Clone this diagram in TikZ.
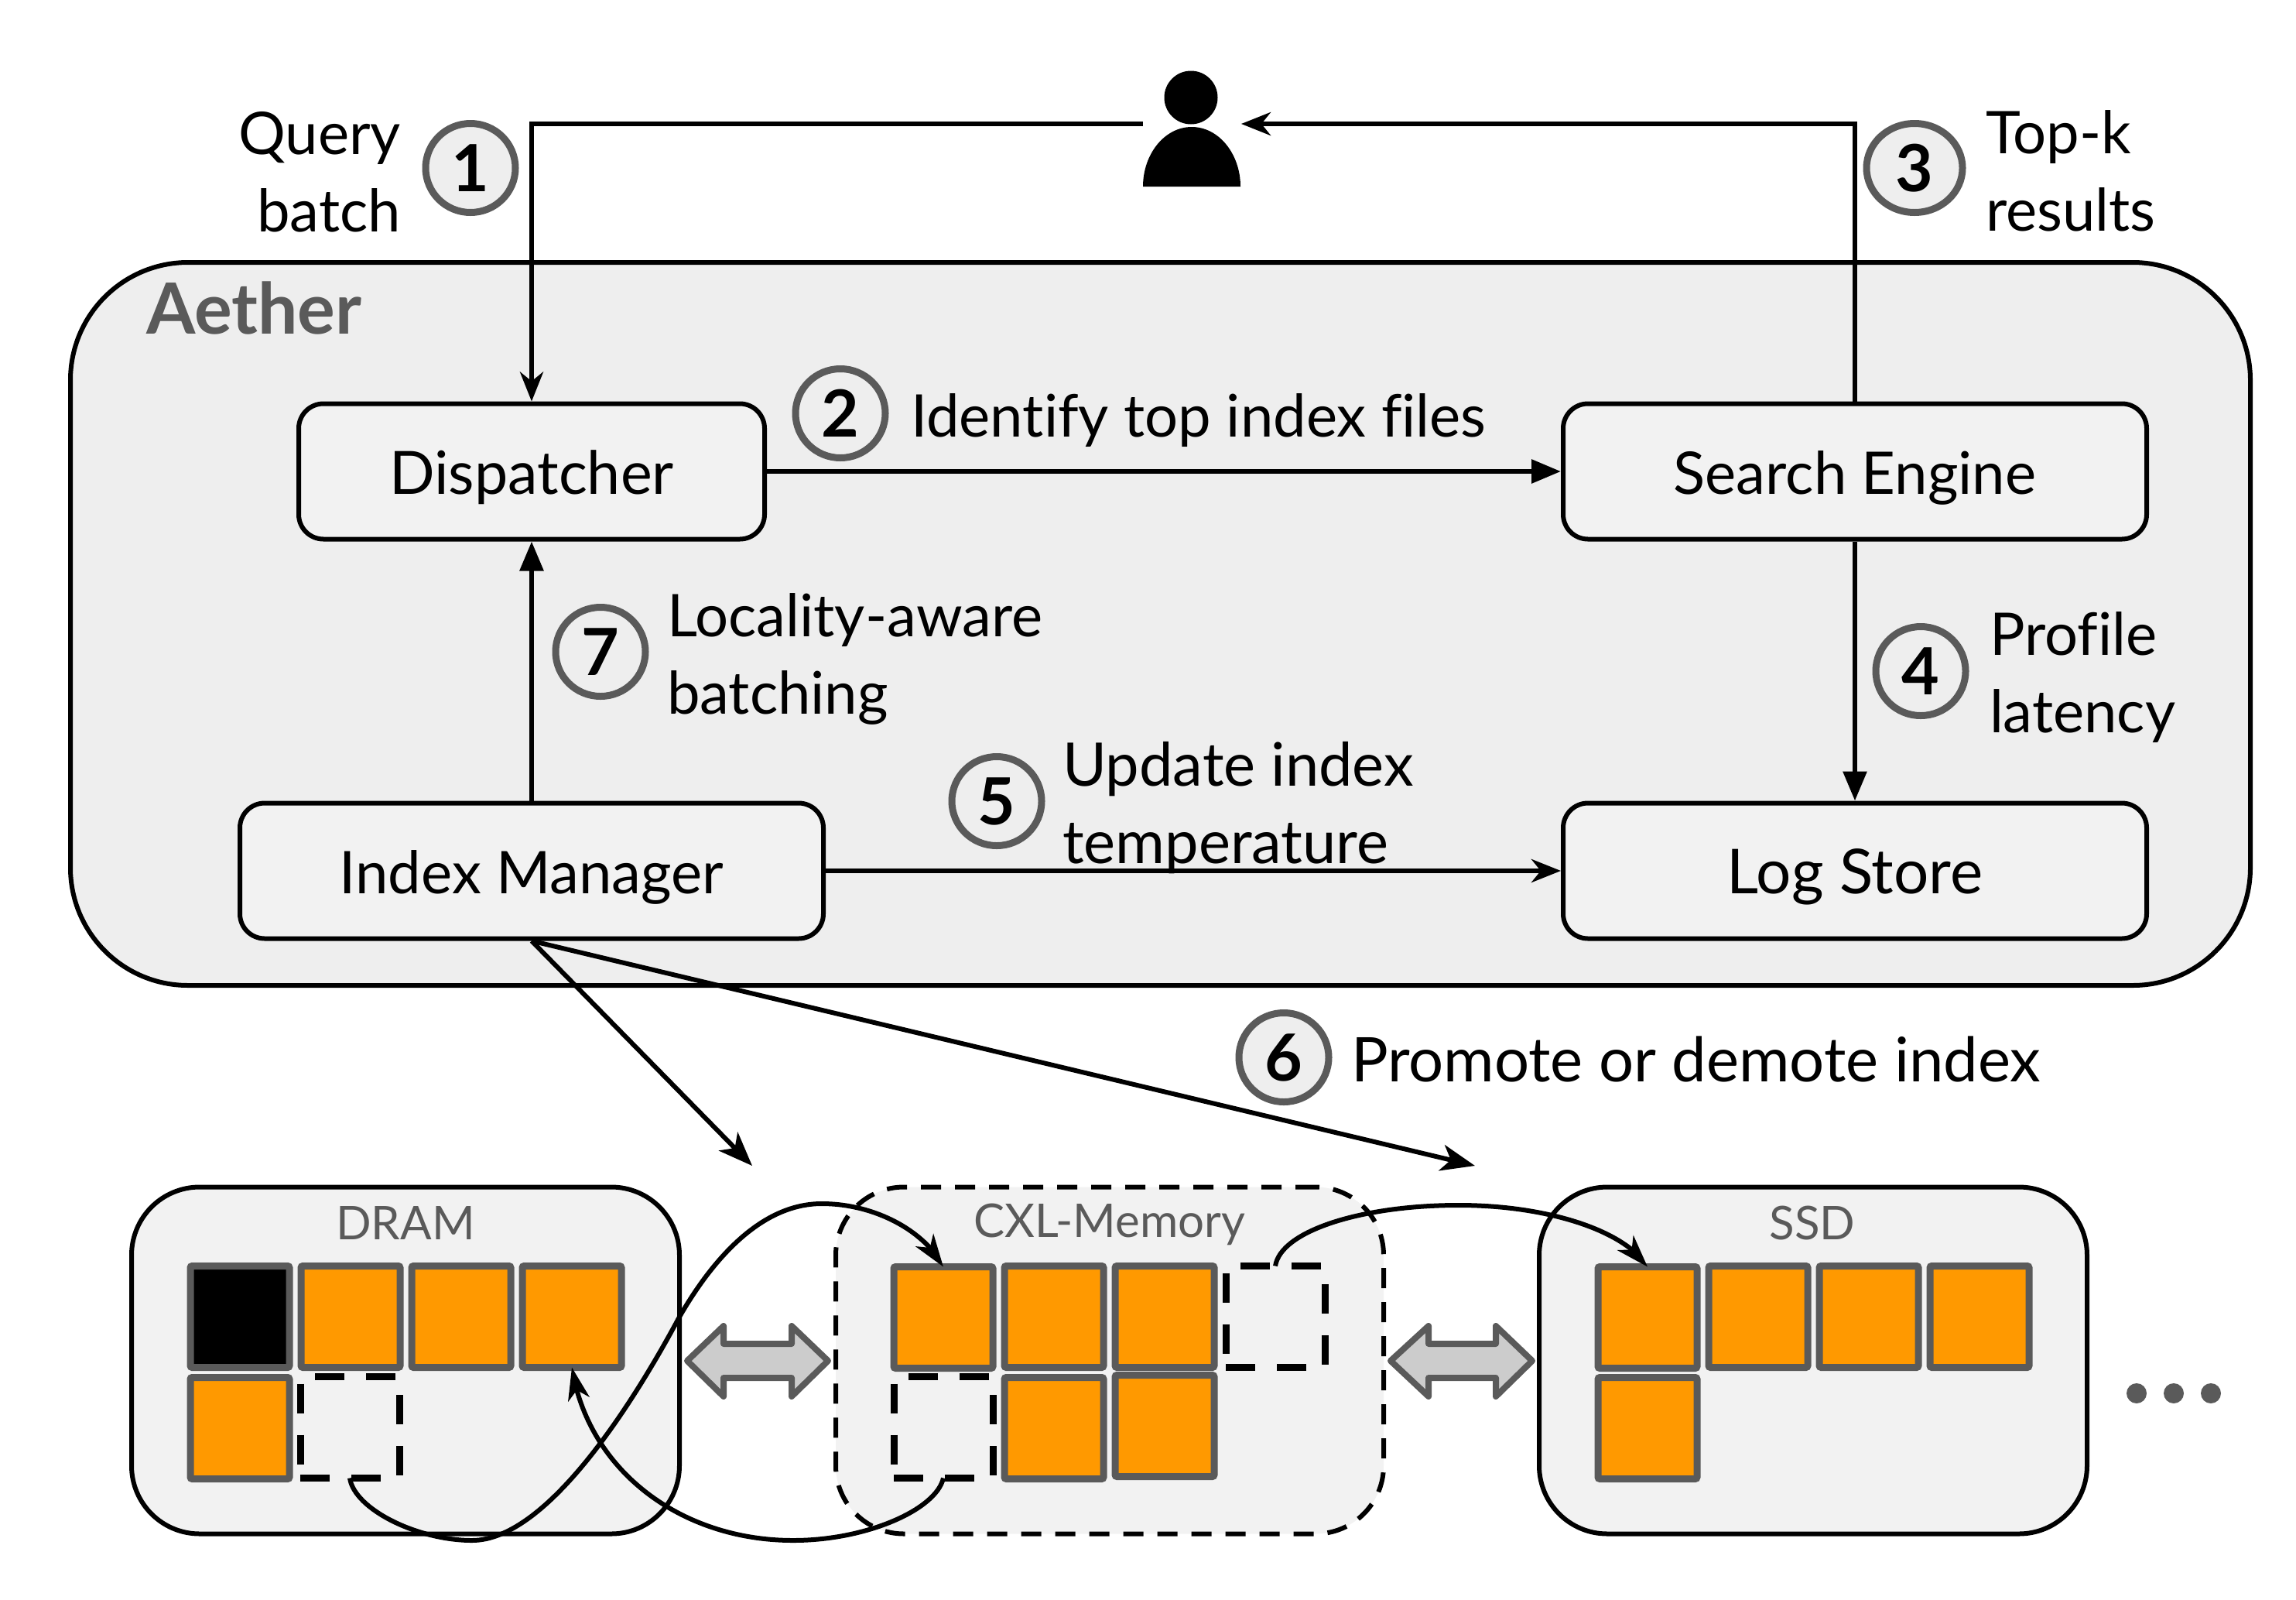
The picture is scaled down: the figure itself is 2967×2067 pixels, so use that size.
\documentclass[tikz,border=0pt]{standalone}
\usepackage{fontspec}
\setmainfont[Ligatures=NoCommon]{Lato}
\usetikzlibrary{arrows.meta,bending,shapes.geometric}
\definecolor{outerfill}{HTML}{EEEEEE}
\definecolor{innerfill}{HTML}{F2F2F2}
\definecolor{edgegray}{HTML}{5A5A5A}
\definecolor{cellorange}{HTML}{FF9900}
\definecolor{linkfill}{HTML}{CCCCCC}
\newcommand{\fsz}[1]{\fontsize{#1}{25}\selectfont}
\tikzset{
  every node/.style={inner sep=0pt,outer sep=0pt},
  maintext/.style={font=\fsz{19}},
  conn/.style={draw=black,line width=1.5pt,-{Triangle[length=9.5pt,width=7.5pt]}},
  connb/.style={draw=black,line width=1.5pt,-{Stealth[length=9.5pt,width=7.5pt,inset=3pt]}},
  bigconn/.style={draw=black,line width=1.5pt,-{Stealth[length=11pt,width=8.5pt,inset=3pt]}},
  curveconn/.style={draw=black,line width=1.5pt,-{Stealth[length=10.5pt,width=7pt,inset=3pt,flex]}},
  compbox/.style={draw=black,fill=innerfill,line width=1.5pt,rounded corners=8pt,outer sep=0.75pt,
     font=\fsz{19},minimum width=188.5pt,minimum height=43.75pt,text height=14.8pt,text depth=0pt},
  tierbox/.style={draw=black,fill=innerfill,line width=1.5pt,rounded corners=22pt,
     minimum width=177pt,minimum height=112pt},
  tierdash/.style={tierbox,dash pattern=on 6.5pt off 4.5pt},
  tierlabel/.style={text=edgegray,font=\fsz{15}},
  cell/.style={draw=edgegray,fill=cellorange,line width=2.25pt,rounded corners=0.6pt,
     minimum width=32pt,minimum height=32.75pt},
  usedcell/.style={cell,fill=black},
  freecell/.style={draw=black,fill=none,line width=2.25pt,dash pattern=on 9.5pt off 7pt,
     minimum width=32pt,minimum height=32.75pt},
  stepmark/.style={ellipse,draw=edgegray,fill=outerfill,line width=2.25pt,minimum width=29pt,minimum height=28.75pt,
     font=\fsz{21}\bfseries},
  note/.style={font=\fsz{19},align=left},
  linkarrow/.style={draw=edgegray,fill=linkfill,line width=2pt,line join=round},
}
\begin{document}
\begin{tikzpicture}[x=0.25pt,y=-0.25pt]
\useasboundingbox (0,0) rectangle (2967,2067);

% system frame
\node[draw=black,fill=outerfill,line width=1.5pt,rounded corners=38pt,
      minimum width=704.25pt,minimum height=233.5pt] (aether) at (1499.5,806) {};
\node[anchor=west,text=edgegray,font=\fsz{22.8}\bfseries] (aethername) at (189,398) {Aether};

% components
\node[compbox,minimum width=150.5pt,font=\fsz{19.3}] (disp) at (687,609) {Dispatcher};
\node[compbox] (search) at (2397,609) {Search Engine};
\node[compbox] (index) at (687,1125) {Index Manager};
\node[compbox,font=\fsz{20}] (log) at (2397,1125) {Log Store};

% user
\node[circle,fill=black,minimum size=17.25pt] (userhead) at (1539,126) {};
\fill[black] (1477,241) .. controls (1477,199) and (1505,164) .. (1540,164)
   .. controls (1575,164) and (1603,199) .. (1603,241) -- cycle;
\coordinate (userL) at (1477,160);
\coordinate (userR) at (1604,160);

% tiers
\node[tierbox] (dram) at (524,1757.5) {};
\node[tierdash] (cxl) at (1434,1757.5) {};
\node[tierbox] (ssd) at (2343,1757.5) {};
\node[tierlabel] (dramname) at (524,1580) {DRAM};
\node[tierlabel] (cxlname) at (1434,1582) {CXL-Memory};
\node[tierlabel] (ssdname) at (2342,1580) {SSD};

% DRAM cells
\node[usedcell] (d1) at (310,1701) {};
\node[cell] (d2) at (453,1701) {};
\node[cell] (d3) at (596,1701) {};
\node[cell] (d4) at (739,1701) {};
\node[cell] (d5) at (310,1845) {};
\node[freecell] (dfree) at (452,1844) {};

% CXL cells
\node[cell] (c1) at (1219,1702) {};
\node[cell] (c2) at (1362,1701) {};
\node[cell] (c3) at (1505,1701) {};
\node[freecell] (cfreeA) at (1648,1701) {};
\node[freecell] (cfreeB) at (1219,1844) {};
\node[cell] (c5) at (1362,1845) {};
\node[cell] (c6) at (1505,1842) {};

% SSD cells
\node[cell] (s1) at (2129,1702) {};
\node[cell] (s2) at (2272,1701) {};
\node[cell] (s3) at (2415,1701) {};
\node[cell] (s4) at (2558,1701) {};
\node[cell] (s5) at (2129,1845) {};

% continuation dots
\foreach \n/\px in {a/2761,b/2809,c/2857}
  \node[circle,fill=edgegray,minimum size=6.5pt] (dot\n) at (\px,1800) {};

% exchange arrows
\draw[linkarrow] (888,1758) -- (935,1713) -- (935,1736) -- (1023,1736) -- (1023,1713) -- (1070,1758)
   -- (1023,1804) -- (1023,1780) -- (935,1780) -- (935,1804) -- cycle;
\draw[linkarrow] (1797,1758) -- (1846,1713) -- (1846,1736) -- (1933,1736) -- (1933,1713) -- (1980,1758)
   -- (1933,1804) -- (1933,1780) -- (1846,1780) -- (1846,1804) -- cycle;

% text notes
\node[note,anchor=east,align=right] (t1) at (518,222) {Query\\batch};
\node[note,anchor=west] (t2) at (1177,543) {Identify top index files};
\node[note,anchor=west] (t3) at (2566,221) {Top-k\\results};
\node[note,anchor=west] (t4) at (2571,875) {Profile\\latency};
\node[note,anchor=west,font=\fsz{19.4}] (t5) at (1373,1044) {Update index\\temperature};
\node[note,anchor=west,font=\fsz{19.9}] (t6) at (1746,1368) {Promote or demote index};
\node[note,anchor=west] (t7) at (862,851) {Locality-aware\\batching};

% connectors
\draw[connb] (userL) -| (disp.north);
\draw[connb] (search.north) |- (userR);
\draw[conn] (disp.east) -- (search.west);
\draw[conn] (search.south) -- (log.north);
\draw[conn] (index.north) -- (disp.south);
\draw[connb] (index.east) -- (log.west);
\coordinate (tierA) at (972,1506);
\coordinate (tierB) at (1906,1506);
\draw[bigconn] (index.south) -- (tierA);
\draw[bigconn] (index.south) -- (tierB);

% moves between tiers
\draw[curveconn] (dfree.south) .. controls (458,1950) and (540,1990) .. (610,1990)
   .. controls (710,1990) and (825,1800) .. (877,1703)
   .. controls (917,1633) and (980,1555) .. (1062,1555)
   .. controls (1130,1555) and (1195,1590) .. (c1.north);
\draw[curveconn] (cfreeB.south) .. controls (1210,1950) and (1120,1990) .. (1025,1990)
   .. controls (880,1990) and (760,1900) .. (d4.south);
\draw[curveconn] (cfreeA.north) .. controls (1655,1590) and (1760,1557) .. (1885,1557)
   .. controls (2000,1557) and (2100,1590) .. (s1.north);

% step markers
\node[stepmark] (m1) at (608,217) {1};
\node[stepmark] (m2) at (1086,534) {2};
\node[stepmark,minimum width=31pt] (m3) at (2474,217) {3};
\node[stepmark] (m4) at (2482,867) {4};
\node[stepmark] (m5) at (1288,1035) {5};
\node[stepmark] (m6) at (1659,1366) {6};
\node[stepmark] (m7) at (776,842) {7};
\end{tikzpicture}
\end{document}
